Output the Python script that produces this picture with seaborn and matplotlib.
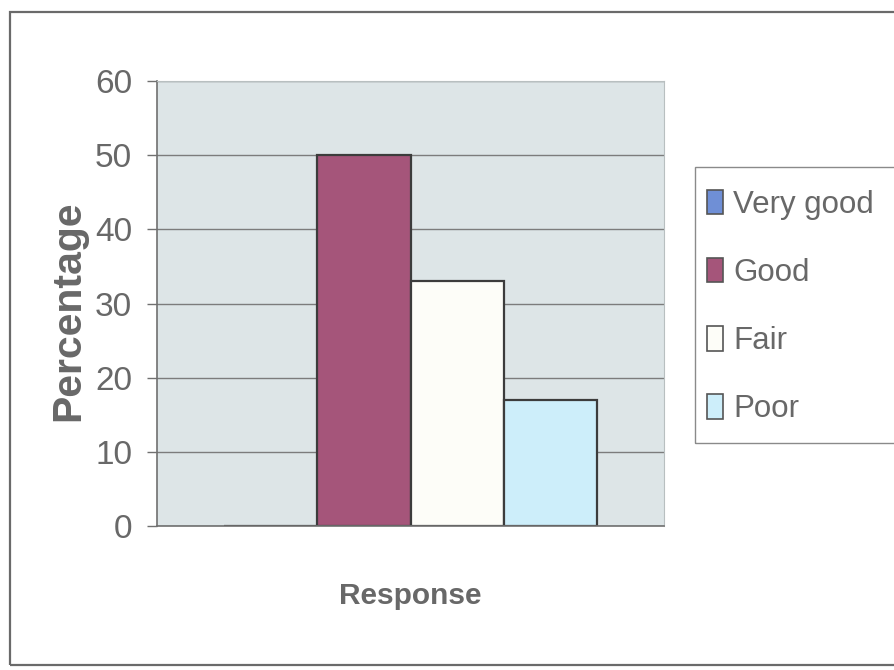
import matplotlib
matplotlib.use("Agg")
import matplotlib.pyplot as plt
from matplotlib.patches import Rectangle
import seaborn as sns
import pandas as pd

# Survey results
responses = ["Very good", "Good", "Fair", "Poor"]
percentages = [0, 50, 33, 17]
group = ["Response"] * len(responses)
colors = ["#6f8fd6", "#a5557a", "#fdfdf8", "#cdeefa"]
y_ticks = [0, 10, 20, 30, 40, 50, 60]

df = pd.DataFrame({"group": group, "response": responses, "pct": percentages})

sns.set_theme(style="white")
fonts = ["Liberation Sans", "DejaVu Sans"]
plt.rcParams["font.family"] = fonts
text_gray = "#686868"

W, H = 894, 670
fig = plt.figure(figsize=(W / 100, H / 100), dpi=100)
fig.patch.set_facecolor("white")

ax = fig.add_axes([157 / W, 1 - 526 / H, (664 - 157) / W, (526 - 81) / H])
ax.set_facecolor("#dde5e7")

sns.barplot(data=df, x="group", y="pct", hue="response", hue_order=responses,
            palette=colors, width=0.736, edgecolor="#3c3c3c", linewidth=1.6,
            saturation=1, ax=ax, legend=True)

ax.set_xlim(-0.5, 0.5)
ax.set_ylim(0, 60)
ax.set_yticks(y_ticks)
ax.set_yticklabels([str(t) for t in y_ticks])
ax.set_xticks([])
ax.set_xlabel("")
ax.set_ylabel("")
ax.set_axisbelow(True)
ax.yaxis.grid(True, color="#7c7c7c", linewidth=1.0)

for side in ["top", "right"]:
    ax.spines[side].set_color("#b8bfc0")
    ax.spines[side].set_linewidth(0.8)
for side in ["left", "bottom"]:
    ax.spines[side].set_color("#707070")
    ax.spines[side].set_linewidth(1.2)

ax.tick_params(axis="y", direction="out", length=7, width=1.0, color="#707070",
               pad=11, labelsize=24, labelcolor=text_gray, left=True)

# Axis titles
fig.text(68 / W, 1 - 311 / H, "Percentage", rotation=90, ha="center", va="center",
         fontsize=29.5, fontweight="bold", color=text_gray)
fig.text(410 / W, 1 - 596 / H, "Response", ha="center", va="center",
         fontsize=21.5, fontweight="bold", color=text_gray)

# Legend (frame drawn separately below)
leg = ax.legend(loc="upper left", bbox_to_anchor=(707 / W, 1 - 190 / H),
                bbox_transform=fig.transFigure, frameon=False,
                prop={"size": 22.5}, handlelength=0.52, handleheight=0.82,
                handletextpad=0.32, labelspacing=1.22, borderpad=0,
                borderaxespad=0)
for t in leg.get_texts():
    t.set_color(text_gray)
for h in leg.legend_handles:
    h.set_edgecolor("#555555")
    h.set_linewidth(1.2)

fig.patches.append(Rectangle((695 / W, 1 - 443 / H), 220 / W, (443 - 167) / H,
                             transform=fig.transFigure, fill=False,
                             edgecolor="#8a8a8a", linewidth=1.0, zorder=1))

# Chart area border
fig.patches.append(Rectangle((10 / W, 1 - 665 / H), (W + 20) / W, (665 - 12) / H,
                             transform=fig.transFigure, fill=False,
                             edgecolor="#6a6a6a", linewidth=1.6, zorder=0))

fig.savefig("out.png", dpi=100, facecolor="white")
